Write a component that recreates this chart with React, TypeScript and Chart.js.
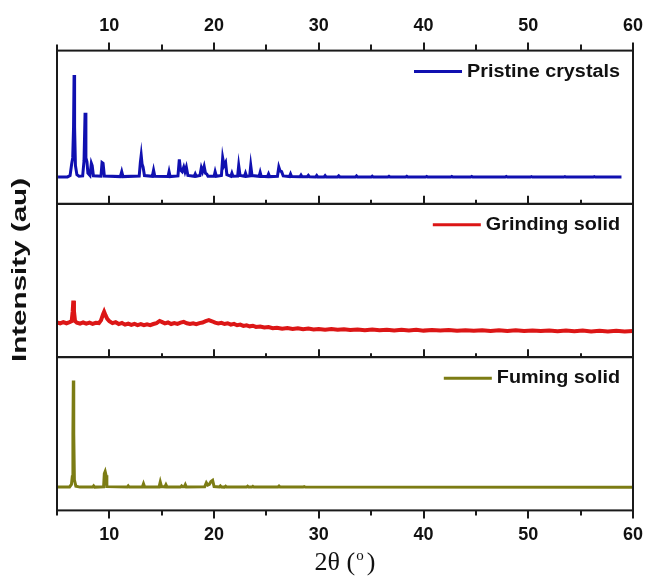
import React, { useEffect, useRef } from 'react';
import { Chart, registerables } from 'chart.js';

Chart.register(...registerables);

// ---- data ----
const xTickLabels = [10, 20, 30, 40, 50, 60];
const xMinorTicks = [5, 15, 25, 35, 45, 55];
const seriesNames = ['Pristine crystals', 'Grinding solid', 'Fuming solid'];
const seriesColors = ['#1010b0', '#dc1616', '#7c7c14'];
const yTitle = 'Intensity (au)';

const pristine: [number, number][] = [
  [5.1, 17.5], [6.0, 17.6], [6.25, 18.5], [6.4, 26], [6.5, 30], [6.58, 50], [6.63, 84], [6.68, 50], [6.76, 25],
  [6.9, 19], [7.1, 18], [7.45, 18.2], [7.58, 28], [7.68, 59.4], [7.76, 30], [7.86, 27.5], [7.95, 20], [8.15, 18.5],
  [8.28, 26.5], [8.36, 25], [8.48, 18.3], [9.2, 18], [9.3, 27], [9.4, 26.5], [9.52, 18.2], [11.05, 17.8], [11.18, 21],
  [11.3, 17.8], [12.85, 18.2], [12.96, 27], [13.04, 31.6], [13.12, 26], [13.22, 24], [13.35, 18.5], [14.1, 18],
  [14.22, 22], [14.34, 18], [15.6, 17.8], [15.7, 21], [15.8, 17.8], [16.55, 18.2], [16.68, 29], [16.8, 22],
  [16.95, 21], [17.1, 24], [17.22, 21], [17.35, 24], [17.5, 18.5], [18.1, 18], [18.2, 19.5], [18.3, 18],
  [18.65, 18.5], [18.78, 23.5], [18.9, 21], [19.05, 24.5], [19.18, 20], [19.3, 19.5], [19.42, 18], [20.0, 18],
  [20.1, 21], [20.22, 18], [20.7, 18.5], [20.82, 30], [20.95, 25], [21.1, 27], [21.22, 19], [21.6, 18], [21.7, 20],
  [21.8, 18], [22.25, 18.2], [22.35, 25], [22.48, 18.5], [22.9, 18], [23.0, 20], [23.1, 18], [23.4, 18.2],
  [23.5, 25], [23.62, 18.5], [24.3, 18], [24.4, 20.6], [24.5, 18], [25.1, 17.8], [25.2, 19.5], [25.3, 17.8],
  [26.05, 18], [26.18, 24], [26.3, 21.5], [26.45, 21], [26.6, 18.2], [27.2, 17.8], [27.3, 19.5], [27.4, 17.8],
  [28.2, 17.7], [28.3, 18.8], [28.4, 17.7], [28.9, 17.7], [29.0, 18.6], [29.1, 17.7], [29.7, 17.6], [29.8, 18.5],
  [29.9, 17.6], [30.5, 17.6], [30.6, 18.4], [30.7, 17.6], [31.8, 17.6], [31.9, 18.3], [32.0, 17.6], [33.5, 17.5],
  [33.6, 18.2], [33.7, 17.5], [35.0, 17.5], [35.1, 18.1], [35.2, 17.5], [36.6, 17.5], [36.7, 18.0], [36.8, 17.5],
  [38.3, 17.5], [38.4, 18.0], [38.5, 17.5], [40.2, 17.5], [40.3, 17.9], [40.4, 17.5], [42.6, 17.5], [42.7, 17.9],
  [42.8, 17.5], [44.5, 17.5], [44.6, 17.9], [44.7, 17.5], [47.8, 17.5], [47.9, 17.9], [48.0, 17.5], [50.2, 17.5],
  [50.3, 17.8], [50.4, 17.5], [53.4, 17.5], [53.5, 17.8], [53.6, 17.5], [56.2, 17.5], [56.3, 17.8], [56.4, 17.5],
  [58.9, 17.5],
];

const grinding: [number, number][] = [
  [5.0, 22.6], [5.3, 22.0], [5.6, 22.8], [5.9, 22.1], [6.2, 22.9], [6.4, 23.5], [6.5, 30], [6.56, 36.8], [6.62, 30],
  [6.72, 23.6], [6.9, 22.5], [7.2, 21.8], [7.5, 22.6], [7.8, 21.9], [8.1, 22.5], [8.4, 21.7], [8.7, 22.4], [9.0, 22.2],
  [9.2, 24], [9.4, 28], [9.5, 29.6], [9.62, 27.5], [9.8, 25], [10.0, 23.4], [10.3, 22.2], [10.6, 22.8], [10.9, 21.6],
  [11.2, 22.3], [11.5, 21.2], [11.8, 21.9], [12.1, 21.0], [12.4, 21.7], [12.7, 20.9], [13.0, 21.5], [13.3, 20.8],
  [13.6, 21.4], [13.9, 20.9], [14.2, 21.6], [14.5, 22.2], [14.8, 23.6], [15.0, 23.0], [15.3, 22.0], [15.6, 22.6],
  [15.9, 21.6], [16.2, 22.2], [16.5, 21.7], [16.8, 22.5], [17.1, 23.0], [17.4, 22.1], [17.7, 21.6], [18.0, 22.1],
  [18.3, 21.5], [18.6, 22.2], [18.9, 22.6], [19.2, 23.5], [19.5, 24.2], [19.8, 23.4], [20.1, 22.5], [20.4, 22.0],
  [20.7, 22.4], [21.0, 21.6], [21.3, 22.1], [21.6, 21.2], [21.9, 21.7], [22.2, 20.8], [22.5, 21.2], [22.8, 20.4],
  [23.1, 20.8], [23.4, 20.1], [23.7, 20.5], [24.0, 19.7], [24.4, 20.0], [24.8, 19.3], [25.2, 19.6], [25.6, 18.9],
  [26.0, 19.2], [26.5, 18.6], [27.0, 19.0], [27.5, 18.4], [28.0, 18.8], [28.5, 18.2], [29.0, 18.6], [29.5, 18.0],
  [30.0, 18.4], [30.6, 17.9], [31.2, 18.3], [31.8, 17.8], [32.4, 18.2], [33.0, 17.7], [33.7, 18.1], [34.4, 17.6],
  [35.1, 18.0], [35.8, 17.5], [36.5, 17.9], [37.2, 17.4], [37.9, 17.8], [38.6, 17.4], [39.3, 17.8], [40.0, 17.3],
  [40.8, 17.7], [41.6, 17.3], [42.4, 17.7], [43.2, 17.2], [44.0, 17.6], [44.8, 17.2], [45.6, 17.6], [46.4, 17.1],
  [47.2, 17.5], [48.0, 17.1], [48.8, 17.5], [49.6, 17.0], [50.4, 17.4], [51.2, 17.0], [52.0, 17.4], [52.8, 16.9],
  [53.6, 17.3], [54.4, 16.9], [55.2, 17.3], [56.0, 16.8], [56.8, 17.2], [57.6, 16.8], [58.4, 17.2], [59.2, 16.8],
  [60.0, 17.1],
];

const fuming: [number, number][] = [
  [5.0, 15.2], [6.2, 15.3], [6.38, 17], [6.46, 22], [6.52, 50], [6.56, 84.8], [6.6, 50], [6.66, 20], [6.8, 15.8],
  [7.2, 15.2], [8.4, 15.2], [8.5, 16], [8.6, 15.2], [9.45, 15.4], [9.52, 24], [9.6, 25.4], [9.68, 23], [9.76, 15.5],
  [11.7, 15.2], [11.8, 16], [11.9, 15.2], [13.15, 15.3], [13.26, 17.4], [13.37, 15.3], [14.75, 15.3], [14.86, 18.5],
  [14.97, 15.6], [15.3, 15.4], [15.4, 16.8], [15.5, 15.3], [16.8, 15.2], [16.9, 16], [17.0, 15.4], [17.15, 15.4],
  [17.25, 16.8], [17.35, 15.2], [19.1, 15.4], [19.26, 18], [19.4, 16.5], [19.55, 17], [19.7, 18.8], [19.86, 19.6],
  [20.0, 15.6], [20.5, 15.3], [20.6, 16], [20.7, 15.3], [21.0, 15.2], [21.1, 15.8], [21.2, 15.2], [23.1, 15.2],
  [23.2, 15.8], [23.3, 15.2], [23.6, 15.2], [23.7, 15.7], [23.8, 15.2], [26.1, 15.2], [26.2, 15.9], [26.3, 15.2],
  [28.5, 15.2], [28.6, 15.5], [28.7, 15.2], [60.0, 15.1],
];

const SANS = '"Liberation Sans", Arial, sans-serif';
const SERIF = '"Liberation Serif", "Times New Roman", serif';

export default function App() {
  const ref = useRef<HTMLCanvasElement>(null);

  useEffect(() => {
    document.body.style.margin = '0';
    if (!ref.current) return;

    const panelPlugin = {
      id: 'panels',
      afterDraw(chart: any) {
        const ctx = chart.ctx as CanvasRenderingContext2D;
        const { left, right } = chart.chartArea;
        const xs = chart.scales.x;
        const panels = ['yTop', 'yMid', 'yBot'].map((id) => chart.scales[id]);
        ctx.save();
        ctx.strokeStyle = '#1a1a1a';
        ctx.lineWidth = 2;
        panels.forEach((p: any) => ctx.strokeRect(left, p.top, right - left, p.bottom - p.top));
        const ticks = (vals: number[], y: number, len: number) => {
          vals.forEach((v) => {
            const px = Math.round(xs.getPixelForValue(v));
            ctx.beginPath();
            ctx.moveTo(px, y);
            ctx.lineTo(px, y + len);
            ctx.stroke();
          });
        };
        ticks(xTickLabels, panels[0].top, -8);
        ticks(xMinorTicks, panels[0].top, -6);
        ticks(xTickLabels, panels[0].bottom, -8);
        ticks(xMinorTicks, panels[0].bottom, -4);
        ticks(xTickLabels, panels[1].bottom, -8);
        ticks(xMinorTicks, panels[1].bottom, -4);
        ticks(xTickLabels, panels[2].bottom, 8);
        ticks(xMinorTicks, panels[2].bottom, 5);

        // legends
        const stretch = 1.1;
        seriesNames.forEach((name, i) => {
          const p = panels[i];
          const cy = p.top + 21;
          ctx.font = `bold 18px ${SANS}`;
          const w = ctx.measureText(name).width * stretch;
          const textRight = right - 13;
          const textLeft = textRight - w;
          ctx.strokeStyle = seriesColors[i];
          ctx.lineWidth = 3;
          ctx.beginPath();
          ctx.moveTo(textLeft - 53, cy);
          ctx.lineTo(textLeft - 5, cy);
          ctx.stroke();
          ctx.save();
          ctx.translate(textLeft, cy);
          ctx.scale(stretch, 1);
          ctx.fillStyle = '#111';
          ctx.textAlign = 'left';
          ctx.textBaseline = 'middle';
          ctx.fillText(name, 0, 0);
          ctx.restore();
        });

        // y title
        ctx.save();
        ctx.translate(20, 270);
        ctx.rotate(-Math.PI / 2);
        ctx.font = `bold 20px ${SANS}`;
        const tw = ctx.measureText(yTitle).width;
        ctx.scale(184 / tw, 1);
        ctx.fillStyle = '#111';
        ctx.textAlign = 'center';
        ctx.textBaseline = 'middle';
        ctx.fillText(yTitle, 0, 0);
        ctx.restore();

        // x title: 2θ (°) with superscript o
        const cx = (left + right) / 2;
        const base = panels[2].bottom + 60;
        ctx.fillStyle = '#111';
        ctx.textBaseline = 'alphabetic';
        ctx.textAlign = 'left';
        ctx.font = `26px ${SERIF}`;
        const a = '2θ (';
        const b = ')';
        const wa = ctx.measureText(a).width;
        const wb = ctx.measureText(b).width;
        ctx.font = `15px ${SERIF}`;
        const ws = ctx.measureText('o').width + 4;
        const start = cx - (wa + ws + wb) / 2;
        ctx.fillText('o', start + wa + 1, base - 10);
        ctx.font = `26px ${SERIF}`;
        ctx.fillText(a, start, base);
        ctx.fillText(b, start + wa + ws, base);
        ctx.restore();
      },
    };

    const tickFont = { family: SANS, size: 18, weight: 'bold' as const };
    const xCommon = {
      type: 'linear' as const,
      min: 5,
      max: 60,
      afterBuildTicks: (s: any) => {
        s.ticks = xTickLabels.map((v) => ({ value: v }));
      },
      afterFit: (s: any) => {
        s.paddingLeft = 0;
        s.paddingRight = 0;
      },
      grid: { display: false, drawTicks: false },
      border: { display: false },
    };
    const yCommon = {
      type: 'linear' as const,
      stack: 'panels',
      stackWeight: 1,
      min: 0,
      max: 100,
      ticks: { display: false },
      grid: { display: false, drawTicks: false },
      border: { display: false },
    };

    const mk = (pts: [number, number][], i: number, axis: string, bw: number) => ({
      label: seriesNames[i],
      data: pts.map(([x, y]) => ({ x, y })),
      yAxisID: axis,
      xAxisID: 'x',
      borderColor: seriesColors[i],
      backgroundColor: seriesColors[i],
      borderWidth: bw,
      pointRadius: 0,
      tension: 0,
      fill: false,
    });

    const chart = new Chart(ref.current, {
      type: 'line',
      data: {
        datasets: [
          mk(pristine, 0, 'yTop', 3),
          mk(grinding, 1, 'yMid', 4),
          mk(fuming, 2, 'yBot', 3),
        ],
      },
      options: {
        responsive: false,
        animation: false,
        layout: { padding: { left: 57, right: 15, top: 1, bottom: 21 } },
        plugins: { legend: { display: false }, tooltip: { enabled: false } },
        scales: {
          x: {
            ...xCommon,
            position: 'bottom',
            ticks: { font: tickFont, color: '#111', padding: 14, maxRotation: 0, autoSkip: false },
          },
          x2: {
            ...xCommon,
            position: 'top',
            ticks: { font: tickFont, color: '#111', padding: 14, maxRotation: 0, autoSkip: false },
          },
          yBot: { ...yCommon },
          yMid: { ...yCommon },
          yTop: { ...yCommon },
        },
      } as any,
      plugins: [panelPlugin],
    });

    return () => chart.destroy();
  }, []);

  return <canvas ref={ref} width={648} height={581} style={{ display: 'block' }} />;
}
